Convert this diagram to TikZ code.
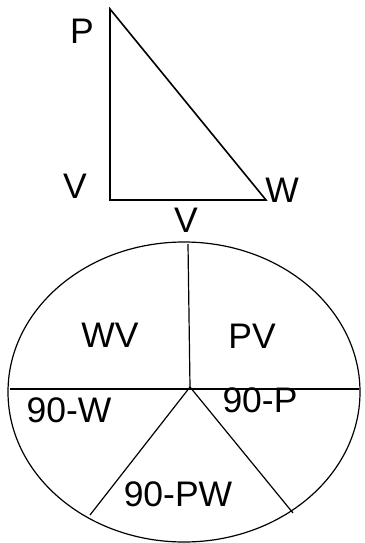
\documentclass[tikz,border=0pt]{standalone}
\usepackage{fontspec}
\setmainfont{Liberation Sans}
\begin{document}
\begin{tikzpicture}[x=1pt,y=-1pt,
  lbl/.style={inner sep=0pt,font=\fontsize{35.5}{40}\selectfont},
  tri/.style={line width=1.6pt,line join=miter},
  pie/.style={line width=1.2pt}]
\useasboundingbox (0,0) rectangle (364,543);
% triangle
\coordinate (P) at (110,9);
\coordinate (V) at (110,200);
\coordinate (W) at (266,200);
\draw[tri] (P) -- (V) -- (W) -- cycle;
\node[lbl] (lP) at (82,31) {P};
\node[lbl] (lV) at (75,186) {V};
\node[lbl] (lW) at (282,190) {W};
\node[lbl] (lVb) at (186,220) {V};
% circle
\draw[pie] (184,392) ellipse [x radius=176, y radius=150];
\coordinate (C) at (190,387);
\coordinate (T) at (188,244);
\coordinate (L) at (10,389);
\coordinate (R) at (359,389);
\coordinate (BL) at (90,515);
\coordinate (BR) at (293,513);
\draw[pie] (T) -- (C);
\draw[pie] (L) -- (R);
\draw[pie] (C) -- (BL);
\draw[pie] (C) -- (BR);
\node[lbl] (wv) at (110,335) {WV};
\node[lbl] (pv) at (252,336) {PV};
\node[lbl] (nw) at (69,410) {90-W};
\node[lbl] (np) at (260,400) {90-P};
\node[lbl] (npw) at (178,494) {90-PW};
\end{tikzpicture}
\end{document}
